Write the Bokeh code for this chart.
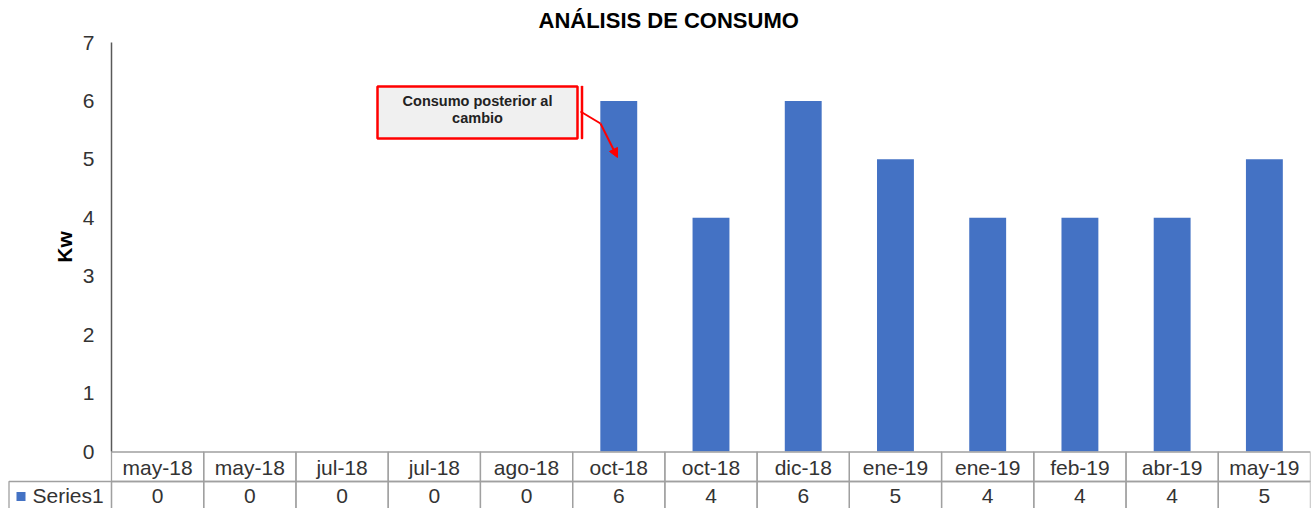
from bokeh.plotting import figure
from bokeh.models import (Range1d, FixedTicker, BoxAnnotation, Label, Arrow,
                          NormalHead, ColumnDataSource)
from bokeh.core.properties import value
from bokeh.embed import file_html
from bokeh.resources import INLINE

# ---------------- data ----------------
months = ["may-18", "may-18", "jul-18", "jul-18", "ago-18", "oct-18", "oct-18",
          "dic-18", "ene-19", "ene-19", "feb-19", "abr-19", "may-19"]
kw = [0, 0, 0, 0, 0, 6, 4, 6, 5, 4, 4, 4, 5]
series_name = "Series1"
y_ticks = [0, 1, 2, 3, 4, 5, 6, 7]
title_text = "ANÁLISIS DE CONSUMO"
y_label = "Kw"
note_text = "Consumo posterior al\ncambio"

# ---------------- style / layout ----------------
FONT = "Liberation Sans"
BAR = "#4472C4"
TXT = "#333333"
GRID = "#a0a0a0"
W = 1311
AXIS_X = 111        # page px of the value axis
RIGHT_B = 1
Y7 = 42             # page px of value 7
Y0 = 451            # page px of value 0
TOP = 32            # frame top (page px)
H = 508
n = len(months)
ppu = (W - RIGHT_B - AXIS_X) / n
ppy = (Y0 - Y7) / 7.0
Y_MIN = -(H - Y0) / ppy
Y_MAX = 7 + (Y7 - TOP) / ppy
X_MIN = -0.5 - AXIS_X / ppu


def px_x(px):  # page pixel -> data x
    return (px - AXIS_X) / ppu - 0.5


def px_y(py):  # page pixel -> data y
    return (Y0 - py) / ppy


idx = list(range(n))
src = ColumnDataSource(dict(
    x=idx, top=kw, label=months, val=[str(v) for v in kw],
    left=[i - 0.5 for i in idx], right=[i + 0.5 for i in idx]))

p = figure(width=W, height=H, x_range=Range1d(X_MIN, n - 0.5),
           y_range=Range1d(Y_MIN, Y_MAX), x_axis_location=None,
           toolbar_location=None, output_backend="svg",
           min_border_left=0, min_border_right=RIGHT_B, min_border_top=TOP,
           min_border_bottom=0)
p.outline_line_color = None
p.xgrid.visible = False
p.ygrid.visible = False

p.title.text = title_text
p.title.align = "left"
p.title.offset = 538
p.title.text_font = FONT
p.title.text_font_size = "22px"
p.title.text_font_style = "bold"
p.title.text_color = "black"
p.title.standoff = 0

ya = p.yaxis[0]
ya.fixed_location = -0.5
ya.ticker = FixedTicker(ticks=y_ticks)
ya.bounds = (0, 7)
ya.major_tick_line_color = None
ya.minor_tick_line_color = None
ya.axis_line_color = "#595959"
ya.axis_line_width = 1.5
ya.major_label_text_font = FONT
ya.major_label_text_font_size = "21px"
ya.major_label_text_color = TXT
ya.major_label_standoff = 11
ya.axis_label = y_label
ya.axis_label_text_font = FONT
ya.axis_label_text_font_size = "21px"
ya.axis_label_text_font_style = "bold"
ya.axis_label_text_color = "black"
ya.axis_label_standoff = 4

p.vbar(x="x", top="top", width=0.4, source=src, fill_color=BAR,
       line_color=None)

# ---------------- callout ----------------
p.add_layout(BoxAnnotation(left=px_x(377), right=px_x(577), top=px_y(86),
                           bottom=px_y(138), fill_color="#f0f0f0", fill_alpha=1,
                           line_color="red", line_width=2.5, line_alpha=1))
p.add_layout(BoxAnnotation(left=px_x(581), right=px_x(582), top=px_y(86),
                           bottom=px_y(138), fill_color="red", fill_alpha=1,
                           line_color="red", line_width=1.5, line_alpha=1))
p.add_layout(Label(x=px_x(477), y=px_y(109), text=note_text,
                   text_align="center", text_baseline="middle",
                   text_font=FONT, text_font_size="14.5px",
                   text_font_style="bold", text_color="#222222",
                   text_line_height=1.1))
p.segment(x0=[px_x(580)], y0=[px_y(111)], x1=[px_x(600)], y1=[px_y(123)],
          line_color="red", line_width=2)
p.add_layout(Arrow(x_start=px_x(600), y_start=px_y(123), x_end=px_x(617),
                   y_end=px_y(157), line_color="red", line_width=2,
                   end=NormalHead(size=9, fill_color="red", line_color="red")))

# ---------------- data table ----------------
R1_TOP = px_y(451.5)
R2_TOP = px_y(481)
R2_BOT = px_y(520)
p.quad(left="left", right="right", bottom=R2_TOP, top=R1_TOP, source=src,
       fill_color=None, line_color=GRID, line_width=1.3)
p.quad(left="left", right="right", bottom=R2_BOT, top=R2_TOP, source=src,
       fill_color=None, line_color=GRID, line_width=1.3)
p.text(x="x", y=px_y(466.5), text="label", source=src, text_align="center",
       text_baseline="middle", text_font=value(FONT), text_font_size="21px",
       text_color=TXT)
p.text(x="x", y=px_y(495), text="val", source=src, text_align="center",
       text_baseline="middle", text_font=value(FONT), text_font_size="21px",
       text_color=TXT)

# legend-key cell
p.quad(left=[px_x(8.5)], right=[-0.5], top=[R2_TOP], bottom=[R2_BOT],
       fill_color=None, line_color=GRID, line_width=1.3)
p.quad(left=[px_x(16)], right=[px_x(25)], top=[px_y(491.5)],
       bottom=[px_y(500.5)], fill_color=BAR, line_color=None)
p.text(x=[px_x(32)], y=[px_y(495)], text=[series_name], text_align="left",
       text_baseline="middle", text_font=value(FONT), text_font_size="21px",
       text_color=TXT)

open("out.html", "w").write(file_html(p, INLINE))
